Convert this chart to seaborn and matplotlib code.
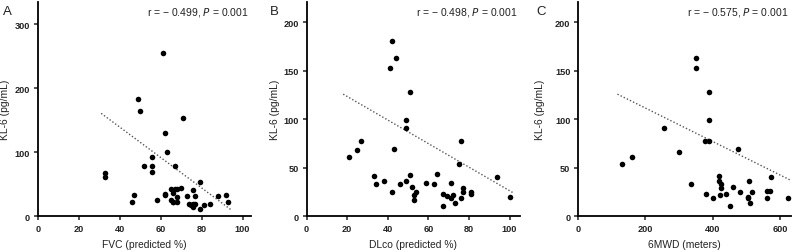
import matplotlib
matplotlib.use("Agg")
import matplotlib.pyplot as plt
import seaborn as sns
import pandas as pd

# KL-6 vs FVC (panel A)
fvc = [61, 49, 50, 71, 62, 63, 56, 52, 56, 56, 67, 33, 33, 79, 47, 46, 58, 62, 62,
       65, 67, 68, 70, 66, 65, 66, 66, 68, 68, 73, 76, 77, 74, 75, 76, 77, 76, 79,
       81, 84, 88, 92, 93]
kl6_a = [255, 183, 165, 154, 130, 100, 92, 78, 78, 70, 78, 67, 61, 54, 33, 22, 25,
         35, 33, 42, 42, 42, 44, 36, 25, 23, 22, 30, 22, 32, 41, 32, 20, 18, 19, 20,
         14, 11, 17, 20, 32, 34, 22]
fit_x_a = [31, 94.5]
fit_y_a = [161, 10]

# KL-6 vs DLco (panel B)
dlco = [42, 44, 41, 51, 49, 49, 27, 76, 43, 25, 21, 75, 94, 33, 34, 38, 42, 46, 49,
        51, 52, 53, 53, 54, 59, 63, 64, 67, 67, 69, 71, 71, 72, 73, 76, 77, 77, 81,
        81, 100]
kl6_b = [181, 163, 153, 128, 99, 91, 78, 78, 69, 68, 61, 54, 41, 42, 33, 36, 25, 33,
         36, 43, 30, 22, 17, 25, 34, 33, 44, 23, 11, 21, 19, 34, 22, 14, 19, 29, 25,
         25, 23, 20]
fit_x_b = [18, 102]
fit_y_b = [126, 24]

# KL-6 vs 6MWD (panel C)
mwd = [349, 349, 389, 389, 256, 377, 388, 476, 300, 159, 132, 574, 419, 334, 417,
       423, 425, 422, 380, 400, 440, 460, 450, 481, 506, 503, 503, 511, 515, 560,
       570, 560, 622]
kl6_c = [163, 153, 128, 99, 91, 78, 78, 69, 66, 61, 54, 41, 42, 33, 36, 33, 29, 22,
         23, 19, 23, 30, 11, 25, 36, 20, 19, 14, 25, 26, 26, 19, 19]
fit_x_c = [117, 632]
fit_y_c = [126, 37]

panels = [
    ("A", fvc, kl6_a, fit_x_a, fit_y_a, "FVC (predicted %)", "r = \u2212 0.499, ", (0, 104), (0, 335),
     [0, 20, 40, 60, 80, 100], [0, 100, 200, 300]),
    ("B", dlco, kl6_b, fit_x_b, fit_y_b, "DLco (predicted %)", "r = \u2212 0.498, ", (0, 105), (0, 221),
     [0, 20, 40, 60, 80, 100], [0, 50, 100, 150, 200]),
    ("C", mwd, kl6_c, fit_x_c, fit_y_c, "6MWD (meters)", "r = \u2212 0.575, ", (0, 632), (0, 221),
     [0, 200, 400, 600], [0, 50, 100, 150, 200]),
]

sns.set_style("ticks")
plt.rcParams['font.family'] = ['Liberation Sans', 'DejaVu Sans']
txt = '#222222'

fig = plt.figure(figsize=(7.92, 2.53), dpi=100)
lefts = [0.0476, 0.3872, 0.7298]
letter_x = [0.004, 0.341, 0.677]
ylabel_x = [-0.132, -0.125, -0.155]

for left, lx, yl, (letter, xs, ys, fx, fy, xlabel, rtxt, xlim, ylim, xt, yt) in zip(lefts, letter_x, ylabel_x, panels):
    ax = fig.add_axes([left, 0.141, 0.269, 0.847])
    df = pd.DataFrame({"x": xs, "y": ys})
    sns.scatterplot(data=df, x="x", y="y", color="black", s=16, linewidth=0, ax=ax, zorder=3)
    sns.lineplot(x=fx, y=fy, color="#555555", linestyle=(0, (1, 1.5)), linewidth=1.0, ax=ax)
    ax.set_xlim(*xlim)
    ax.set_ylim(*ylim)
    ax.set_xticks(xt)
    ax.set_yticks(yt)
    ax.set_xlabel(xlabel, fontsize=7.4, color=txt, labelpad=4.5)
    ax.set_ylabel("KL-6 (pg/mL)", fontsize=7.4, color=txt)
    ax.yaxis.set_label_coords(yl, 0.5)
    ax.tick_params(labelsize=6.6, colors=txt, length=3, width=1.1, pad=2.5)
    for lab in ax.get_xticklabels() + ax.get_yticklabels():
        lab.set_fontweight("bold")
    for sp in ["left", "bottom"]:
        ax.spines[sp].set_linewidth(1.3)
        ax.spines[sp].set_color("black")
    sns.despine(ax=ax)
    ax.text(0.99, 0.985, rtxt + r"$\it{P}$ = 0.001", transform=ax.transAxes,
            ha="right", va="top", fontsize=7.5, color=txt)
    fig.text(lx, 0.975, letter, fontsize=9.5, color=txt, ha="left", va="top")

fig.savefig("out.png", dpi=100)
plt.close()
